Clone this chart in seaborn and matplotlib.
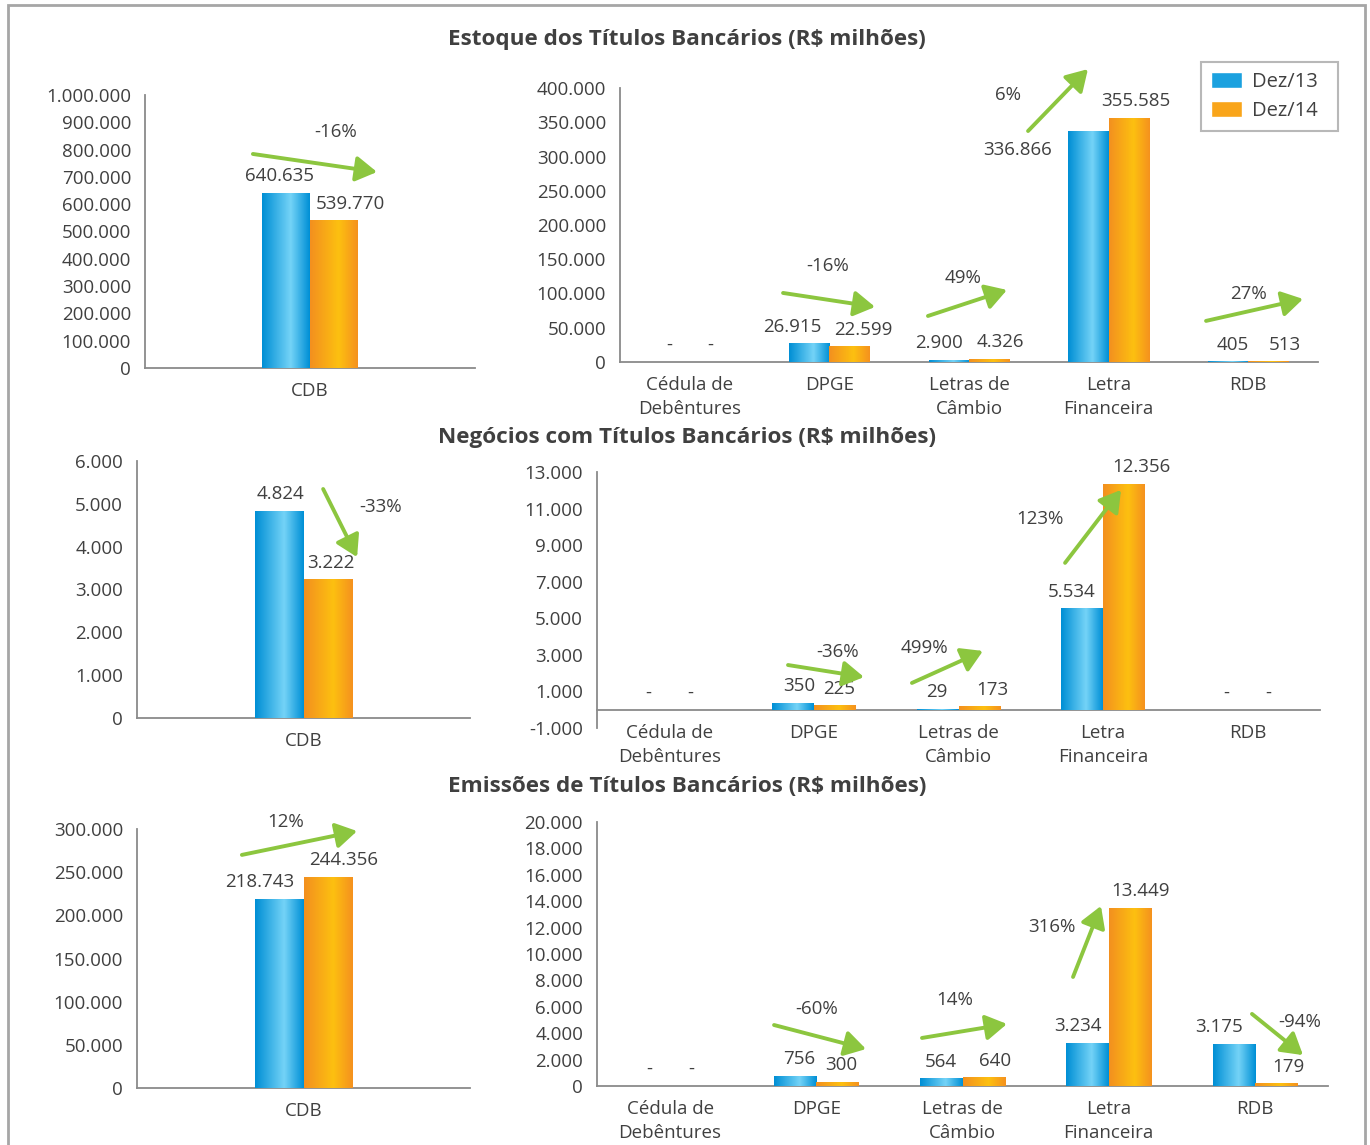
import matplotlib
matplotlib.use("Agg")
import matplotlib.pyplot as plt
import matplotlib.ticker as mticker
import matplotlib.transforms as mtransforms
from matplotlib.colors import LinearSegmentedColormap
from matplotlib.patches import Rectangle, Patch
import numpy as np
import pandas as pd
import seaborn as sns

# Data
periods = ["Dez/13", "Dez/14"]
categories = ["Cédula de\nDebêntures", "DPGE", "Letras de\nCâmbio", "Letra\nFinanceira", "RDB"]
cdb = ["CDB"]

estoque_cdb_13 = [640635]
estoque_cdb_14 = [539770]
estoque_dez13 = [0, 26915, 2900, 336866, 405]
estoque_dez14 = [0, 22599, 4326, 355585, 513]
estoque_var_cdb = [-16]
estoque_var = [-16, 49, 6, 27]          # DPGE, Letras de Câmbio, Letra Financeira, RDB

negocios_cdb_13 = [4824]
negocios_cdb_14 = [3222]
negocios_dez13 = [0, 350, 29, 5534, 0]
negocios_dez14 = [0, 225, 173, 12356, 0]
negocios_var_cdb = [-33]
negocios_var = [-36, 499, 123]          # DPGE, Letras de Câmbio, Letra Financeira

emissoes_cdb_13 = [218743]
emissoes_cdb_14 = [244356]
emissoes_dez13 = [0, 756, 564, 3234, 3175]
emissoes_dez14 = [0, 300, 640, 13449, 179]
emissoes_var_cdb = [12]
emissoes_var = [-60, 14, 316, -94]      # DPGE, Letras de Câmbio, Letra Financeira, RDB

titles = ["Estoque dos Títulos Bancários (R$ milhões)",
          "Negócios com Títulos Bancários (R$ milhões)",
          "Emissões de Títulos Bancários (R$ milhões)"]

# Style
W, H = 1370, 1145
BLUE, ORANGE, GREEN = "#1BA1DF", "#F9A51A", "#8CC63F"
TXT, AXC = "#404040", "#8A8A8A"
FS = 13.5
blue_cmap = LinearSegmentedColormap.from_list("b", [(0, "#008FD5"), (0.6, "#74D3F7"), (1, "#0090D6")])
orange_cmap = LinearSegmentedColormap.from_list("o", [(0, "#F3901F"), (0.6, "#FDC010"), (1, "#F5921E")])

sns.set_style("white")
plt.rcParams["font.family"] = ["Open Sans", "DejaVu Sans"]
plt.rcParams["text.color"] = TXT


def fmt(v, pos=None):
    return f"{v:,.0f}".replace(",", ".")


def px_axes(fig, l, r, t, b):
    return fig.add_axes([l / W, 1 - b / H, (r - l) / W, (b - t) / H])


def draw_panel(ax, cats, v13, v14, width, ylim, step, dx, dy=None):
    n = len(cats)
    df = pd.DataFrame({"cat": cats * 2,
                       "periodo": [periods[0]] * n + [periods[1]] * n,
                       "valor": v13 + v14})
    sns.barplot(data=df, x="cat", y="valor", hue="periodo", palette=[BLUE, ORANGE],
                width=width, gap=0, saturation=1, errorbar=None, legend=False, ax=ax)
    # spines first (moving a spine resets the ticks)
    for s in ["top", "right"]:
        ax.spines[s].set_visible(False)
    for s in ["left", "bottom"]:
        ax.spines[s].set_color(AXC)
        ax.spines[s].set_linewidth(1.3)
    if ylim[0] < 0:
        ax.spines["bottom"].set_position(("data", 0))
    ax.set_xlim(-0.5, n - 0.5)
    ax.set_ylim(*ylim)
    ax.set_yticks(np.arange(ylim[0], ylim[1] + 1, step))
    ax.yaxis.set_major_formatter(mticker.FuncFormatter(fmt))
    # gradient fill + labels
    vals = v13 + v14
    for i, p in enumerate(ax.patches):
        x, y = p.get_x(), p.get_y()
        w, h = p.get_width(), p.get_height()
        cmap = blue_cmap if i < n else orange_cmap
        if h > 0:
            ax.imshow(np.linspace(0, 1, 64)[None, :], cmap=cmap, aspect="auto",
                      extent=[x, x + w, y, y + h], zorder=3, interpolation="bilinear")
        label = fmt(vals[i]) if vals[i] else "-"
        ddy = 17 if dy is None or dy[i] is None else dy[i]
        ax.annotate(label, (x + w / 2, h), xytext=(dx[i], ddy), textcoords="offset pixels",
                    ha="center", va="center", fontsize=FS, color=TXT, zorder=5)
    ax.set_xlim(-0.5, n - 0.5)
    ax.set_ylim(*ylim)
    # ticks between categories, labels at centers
    ax.set_xticks(np.arange(-0.5, n, 1.0))
    ax.set_xticklabels([])
    ax.set_xticks(np.arange(n), minor=True)
    ax.set_xticklabels(cats, minor=True, fontsize=FS, color=TXT, linespacing=1.45)
    ax.tick_params(axis="x", which="major", length=5, width=1.2, color=AXC, direction="out")
    ax.tick_params(axis="x", which="minor", length=0, pad=10)
    ax.tick_params(axis="y", length=5, width=1.2, color=AXC, direction="out",
                   labelsize=FS, labelcolor=TXT, pad=5)
    ax.set_xlabel("")
    ax.set_ylabel("")


def draw_arrows(ax, pcts, geom):
    tr = mtransforms.blended_transform_factory(ax.transData, ax.transAxes)
    for pct, (x0, y0, x1, y1, tx, ty) in zip(pcts, geom):
        ax.annotate("", xy=(x1, y1), xytext=(x0, y0), xycoords=tr, textcoords=tr,
                    arrowprops=dict(arrowstyle="-|>,head_length=0.75,head_width=0.45",
                                    color=GREEN, lw=2.8, mutation_scale=17, shrinkA=0, shrinkB=0),
                    zorder=6)
        ax.text(tx, ty, f"{pct}%", transform=tr, ha="center", va="center",
                fontsize=FS, color=TXT, zorder=6)


fig = plt.figure(figsize=(W / 100, H / 100), dpi=100)
fig.patches.append(Rectangle((8 / W, -0.01), 1357 / W, 1 - 5 / H + 0.01, transform=fig.transFigure,
                             fill=False, edgecolor="#A6A6A6", linewidth=2))

for t, y in zip(titles, [40, 437, 787]):
    fig.text(687 / W, 1 - y / H, t, ha="center", va="center", fontsize=16.2,
             fontweight="bold", color=TXT)

# Estoque
ax = px_axes(fig, 145, 475, 95, 368)
draw_panel(ax, cdb, estoque_cdb_13, estoque_cdb_14, 0.29, (0, 1000000), 100000, [-7, 16])
draw_arrows(ax, estoque_var_cdb, [(-0.173, 0.784, 0.203, 0.718, 0.079, 0.864)])

ax = px_axes(fig, 620, 1318, 88, 362)
draw_panel(ax, categories, estoque_dez13, estoque_dez14, 0.58, (0, 400000), 50000,
           [0, -17, -10, -71, 5, 0, 14, 11, 7, 16],
           dy=[None, None, None, -19, None, None, None, None, None, None])
draw_arrows(ax, estoque_var, [(0.668, 0.252, 1.327, 0.201, 0.99, 0.350),
                              (1.706, 0.168, 2.272, 0.263, 1.957, 0.307),
                              (2.423, 0.843, 2.852, 1.069, 2.279, 0.974),
                              (3.698, 0.150, 4.393, 0.230, 3.999, 0.248)])
handles = [Patch(facecolor=BLUE), Patch(facecolor=ORANGE)]
leg = fig.legend(handles, [p + "  " for p in periods], loc="upper right",
                 bbox_to_anchor=(1338 / W, 1 - 62 / H),
                 fontsize=14.5, frameon=True, fancybox=False, handlelength=1.55, handleheight=0.8,
                 labelspacing=0.45, borderpad=0.5, handletextpad=0.45, borderaxespad=0)
leg.get_frame().set_edgecolor("#A6A6A6")
leg.get_frame().set_linewidth(1.5)

# Negocios
ax = px_axes(fig, 137, 470, 461, 718)
draw_panel(ax, cdb, negocios_cdb_13, negocios_cdb_14, 0.29, (0, 6000), 1000, [1, 3])
draw_arrows(ax, negocios_var_cdb, [(0.059, 0.891, 0.161, 0.626, 0.232, 0.821)])

ax = px_axes(fig, 597, 1320, 472, 728)
draw_panel(ax, categories, negocios_dez13, negocios_dez14, 0.58, (-1000, 13000), 2000,
           [0, 6, -1, -11, 0, 0, 4, 13, 17, 0])
draw_arrows(ax, negocios_var, [(0.821, 0.246, 1.346, 0.199, 1.167, 0.297),
                               (1.678, 0.176, 2.169, 0.301, 1.761, 0.3125),
                               (2.737, 0.645, 3.124, 0.930, 2.564, 0.816)])

# Emissoes
ax = px_axes(fig, 137, 470, 829, 1088)
draw_panel(ax, cdb, emissoes_cdb_13, emissoes_cdb_14, 0.29, (0, 300000), 50000, [-20, 16])
draw_arrows(ax, emissoes_var_cdb, [(-0.185, 0.900, 0.161, 0.992, -0.053, 1.027)])

ax = px_axes(fig, 597, 1328, 822, 1086)
draw_panel(ax, categories, emissoes_dez13, emissoes_dez14, 0.58, (0, 20000), 2000,
           [0, 4, 0, -10, -15, 0, 4, 11, 11, 12])
draw_arrows(ax, emissoes_var, [(0.711, 0.231, 1.340, 0.140, 1.0, 0.292),
                               (1.723, 0.182, 2.304, 0.235, 1.949, 0.326),
                               (2.756, 0.413, 2.947, 0.682, 2.613, 0.602),
                               (3.980, 0.273, 4.329, 0.117, 4.305, 0.242)])

fig.savefig("out.png", dpi=100)
